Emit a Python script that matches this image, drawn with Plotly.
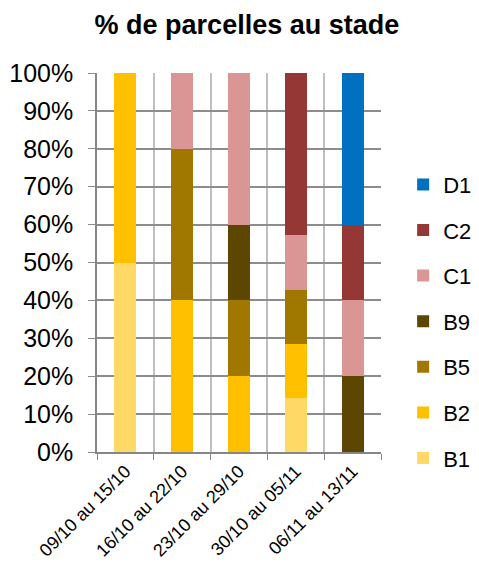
import plotly.graph_objects as go

categories = ["09/10 au 15/10", "16/10 au 22/10", "23/10 au 29/10", "30/10 au 05/11", "06/11 au 13/11"]
series_names = ["B1", "B2", "B5", "B9", "C1", "C2", "D1"]
B1 = [50, 0, 0, 14.29, 0]
B2 = [50, 40, 20, 14.29, 0]
B5 = [0, 40, 20, 14.29, 0]
B9 = [0, 0, 20, 0, 20]
C1 = [0, 20, 40, 14.29, 20]
C2 = [0, 0, 0, 42.86, 20]
D1 = [0, 0, 0, 0, 40]
values = [B1, B2, B5, B9, C1, C2, D1]
colors = ["#FFD966", "#FFC000", "#A07800", "#5C4600", "#D99694", "#953735", "#0070C0"]

fig = go.Figure()
for i, (name, vals, col) in enumerate(zip(series_names, values, colors)):
    fig.add_trace(go.Bar(x=categories, y=vals, name=name, marker_color=col,
                         marker_line_width=0, legendgroup=name, legendrank=1000 - i))

# page body has an 8px default margin on each side; figure sized to fit inside
fig.update_layout(
    width=463, height=560,
    barmode="stack", bargap=0.61,
    plot_bgcolor="white", paper_bgcolor="white",
    margin=dict(l=89, r=90, t=65, b=116, autoexpand=False),
    font=dict(family="Liberation Sans, Arial, sans-serif", color="black"),
    title=dict(text="<b>% de parcelles au stade</b>", x=0.516, xanchor="center",
               y=0.971, yanchor="middle", font=dict(size=27)),
    legend=dict(traceorder="grouped", tracegroupgap=14,
                x=1.078, xanchor="left", y=0.344, yanchor="middle",
                font=dict(size=22), itemwidth=30),
    showlegend=True,
)
fig.update_xaxes(type="category", tickson="boundaries", showgrid=True, gridcolor="#BFBFBF",
                 gridwidth=1.5, ticks="outside", ticklen=6, tickcolor="#868686",
                 showline=True, linecolor="#868686", linewidth=1.5, automargin=False,
                 tickangle=-45, tickfont=dict(size=18), mirror=False)
fig.update_yaxes(range=[0, 100], dtick=10, ticksuffix="%", showgrid=True, gridcolor="#8C8C8C",
                 gridwidth=1.5, ticks="outside", ticklen=7, tickcolor="#8C8C8C",
                 showline=True, linecolor="#868686", linewidth=1.5, automargin=False,
                 ticklabelstandoff=10, tickfont=dict(size=25), zeroline=False)

fig.write_html("out.html")
